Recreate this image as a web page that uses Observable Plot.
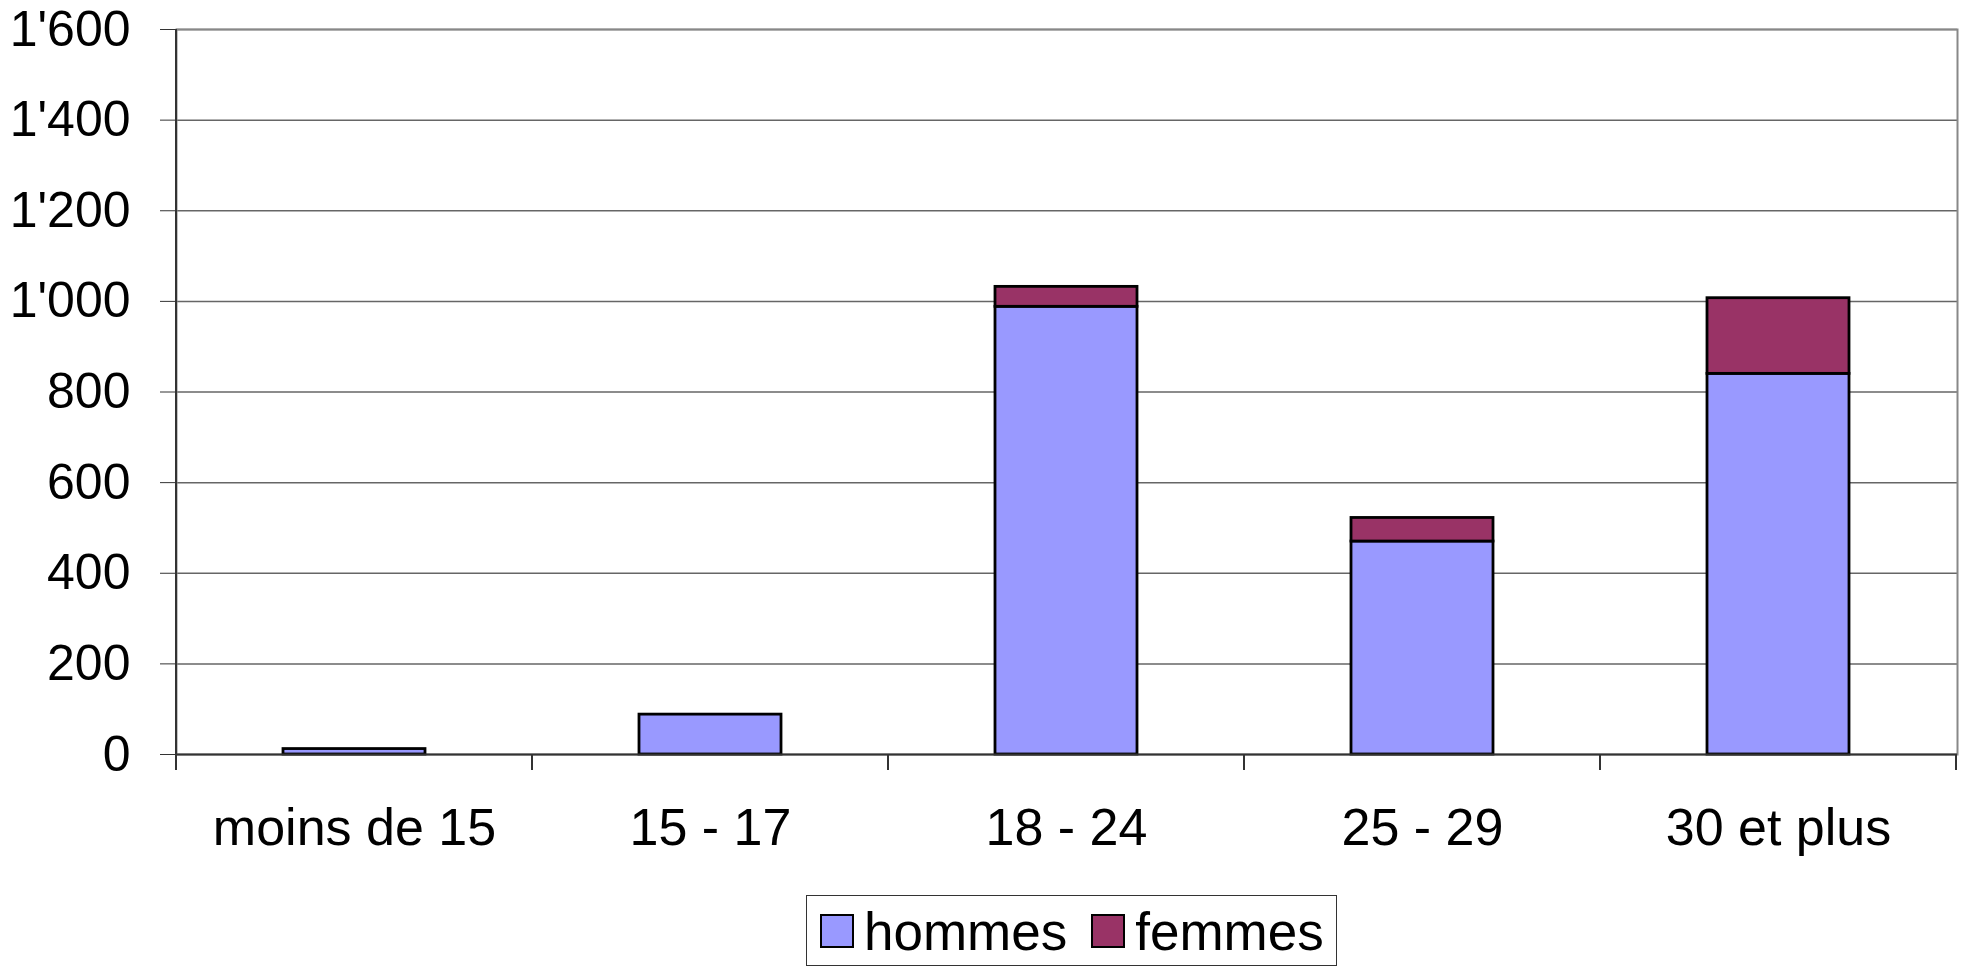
<!DOCTYPE html>
<html>
<head>
<meta charset="utf-8">
<script src="https://cdn.jsdelivr.net/npm/d3@7"></script>
<script src="https://cdn.jsdelivr.net/npm/@observablehq/plot@0.6"></script>
<style>
  html, body { margin: 0; padding: 0; background: #fff; }
  body { font-family: "Liberation Sans", Arial, sans-serif; width: 1970px; height: 966px; overflow: hidden; }
  #legend {
    margin-left: 806px; width: 531px; height: 71px; box-sizing: border-box;
    border: 1.5px solid #333; display: flex; align-items: center; padding-left: 13px;
    font-size: 53px; color: #000;
  }
  #legend .item { display: flex; align-items: center; margin-right: 24px; }
  #legend .sw { width: 34px; height: 34px; box-sizing: border-box; border: 2.5px solid #000; margin-right: 10px; }
  #legend .lab { line-height: 1; position: relative; top: 1px; }
</style>
</head>
<body>
<div id="chart"></div>
<div id="legend"></div>
<script>
const categories = ["moins de 15", "15 - 17", "18 - 24", "25 - 29", "30 et plus"];
const series = ["hommes", "femmes"];
const hommes = [12, 88, 988, 470, 840];
const femmes = [0, 0, 44, 52, 167];
const yTicks = [0, 200, 400, 600, 800, 1000, 1200, 1400, 1600];
const colors = ["#9999FF", "#993366"];

const fmt = d3.formatLocale({decimal: ".", thousands: "'", grouping: [3], currency: ["", ""]}).format(",");

const data = categories.flatMap((c, i) => [
  {cat: c, serie: series[0], value: hommes[i]},
  {cat: c, serie: series[1], value: femmes[i]}
]);

function boundaryTicks(index, scales, values, dims) {
  const x = scales.x;
  const bw = x.bandwidth();
  const step = x.step();
  const y0 = dims.height - dims.marginBottom;
  const g = d3.create("svg:g").attr("stroke", "#333").attr("stroke-width", 2);
  const xs = categories.map(c => x(c) + bw / 2 - step / 2);
  xs.push(x(categories[categories.length - 1]) + bw / 2 + step / 2);
  xs.forEach(px => {
    g.append("line").attr("x1", px).attr("x2", px).attr("y1", y0).attr("y2", y0 + 16);
  });
  g.append("line").attr("x1", xs[0]).attr("x2", xs[0]).attr("y1", dims.marginTop).attr("y2", y0);
  return g.node();
}

const chart = Plot.plot({
  width: 1970,
  height: 895,
  marginLeft: 176,
  marginRight: 13,
  marginTop: 29,
  marginBottom: 141,
  style: {fontFamily: "'Liberation Sans', Arial, sans-serif", fontSize: "50px", color: "#000", background: "#fff"},
  x: {domain: categories, paddingInner: 0.6, paddingOuter: 0.3, label: null},
  y: {domain: [0, 1600], ticks: yTicks, label: null},
  color: {domain: series, range: colors},
  marks: [
    Plot.ruleY(yTicks.slice(1), {stroke: "#666", strokeWidth: 1.5}),
    Plot.frame({stroke: "#888", strokeWidth: 2}),
    Plot.barY(data, {x: "cat", y: "value", fill: "serie", stroke: "#000", strokeWidth: 2.8}),
    Plot.ruleY([0], {stroke: "#333", strokeWidth: 2}),
    Plot.axisY({ticks: yTicks, tickFormat: fmt, tickSize: 16, tickPadding: 30, fontSize: 50, stroke: "#333", label: null}),
    Plot.axisX({tickSize: 0, tickPadding: 54, fontSize: 52, label: null}),
    boundaryTicks
  ]
});
document.getElementById("chart").appendChild(chart);

const legend = d3.select("#legend");
series.forEach((s, i) => {
  const it = legend.append("div").attr("class", "item");
  it.append("div").attr("class", "sw").style("background", colors[i]);
  it.append("span").attr("class", "lab").text(s);
});
</script>
</body>
</html>
